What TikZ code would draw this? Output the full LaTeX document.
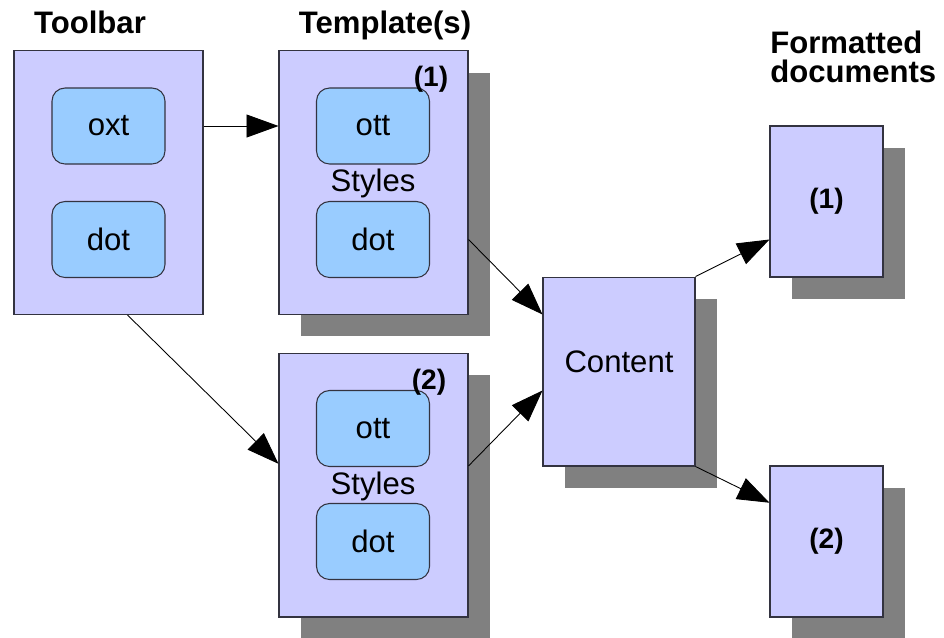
\documentclass[tikz,border=0pt]{standalone}
\usepackage{fontspec}
\setmainfont{Liberation Sans}
\usepackage{tikz}
\usetikzlibrary{arrows.meta, calc, shadows}

\definecolor{boxfill}{HTML}{CCCCFF}
\definecolor{innerfill}{HTML}{99CCFF}
\definecolor{shadegray}{HTML}{808080}
\definecolor{edgegray}{HTML}{333340}

\tikzset{
  panel/.style={draw=edgegray, line width=0.6pt, fill=boxfill, inner sep=0pt},
  shaded/.style={drop shadow={shadow xshift=0.44cm, shadow yshift=-0.44cm, fill=shadegray, opacity=1}},
  bigpanel/.style={panel, minimum width=3.78cm, minimum height=5.28cm},
  file/.style={draw=edgegray, line width=0.6pt, fill=innerfill, rounded corners=0.26cm,
    minimum width=2.26cm, minimum height=1.52cm, font=\fontsize{17.7}{20}\selectfont},
  heading/.style={font=\bfseries\fontsize{17.7}{16.5}\selectfont, inner sep=0pt},
  tag/.style={font=\bfseries\fontsize{16}{18}\selectfont, inner sep=0pt},
  plain/.style={font=\fontsize{17.7}{20}\selectfont, inner sep=0pt},
  flow/.style={-{Triangle[length=0.64cm, width=0.46cm]}, line width=0.5pt}
}

\begin{document}
\begin{tikzpicture}[x=0.02cm, y=-0.02cm]
\useasboundingbox (0,0) rectangle (944,637);

% titles
\node[heading, anchor=base] (ttool) at (90,33) {Toolbar};
\node[heading, anchor=base] (ttpl) at (385,33) {Template(s)};
\node[heading, anchor=base west, align=left] (tdocs) at (770,82) {Formatted\\documents};

% toolbar
\node[bigpanel] (toolbar) at (108.5,182.5) {};
\node[file] (oxt) at (108.5,126) {oxt};
\node[file] (tbdot) at (108.5,239.5) {dot};

% template 1
\node[bigpanel, shaded] (tpl1) at (373.5,182.5) {};
\node[file] (ott1) at (373,126) {ott};
\node[file] (dot1) at (373,239.5) {dot};
\node[plain] (sty1) at (373,183) {Styles};
\node[tag] (n1) at (431,79) {(1)};

% template 2
\node[bigpanel, shaded] (tpl2) at (373.5,485) {};
\node[file] (ott2) at (373,428.5) {ott};
\node[file] (dot2) at (373,541.5) {dot};
\node[plain] (sty2) at (373,486) {Styles};
\node[tag] (n2) at (429,382) {(2)};

% content and documents
\node[panel, shaded, minimum width=3.04cm, minimum height=3.78cm, plain, text depth=0.38cm] (content) at (619,371.5) {Content};
\node[panel, shaded, minimum width=2.26cm, minimum height=3.02cm, tag] (doc1) at (826.5,201.5) {(1)};
\node[panel, shaded, minimum width=2.26cm, minimum height=3.02cm, tag] (doc2) at (826.5,541.5) {(2)};

% arrows
\draw[flow] (toolbar.east |- oxt.center) -- (tpl1.west |- oxt.center);
\draw[flow] ($(toolbar.south west)!0.6!(toolbar.south east)$) -- ($(tpl2.north west)!0.42!(tpl2.south west)$);
\draw[flow] (tpl1.east |- dot1.center) -- ($(content.north west)!0.2!(content.south west)$);
\draw[flow] ($(tpl2.north east)!0.428!(tpl2.south east)$) -- ($(content.north west)!0.6!(content.south west)$);
\draw[flow] (content.north east) -- ($(doc1.north west)!0.75!(doc1.south west)$);
\draw[flow] (content.south east) -- ($(doc2.north west)!0.245!(doc2.south west)$);
\end{tikzpicture}
\end{document}
